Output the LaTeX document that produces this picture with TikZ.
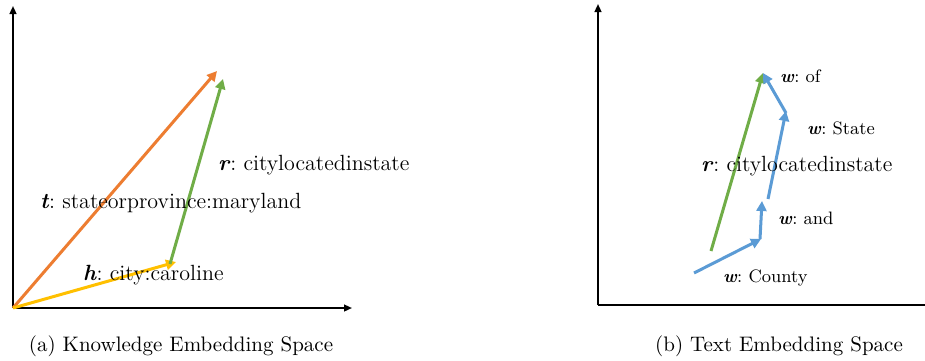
\documentclass[tikz,border=0pt]{standalone}
\usepackage{amsmath,amssymb,amsfonts}
\usepackage{tikz}
\usepackage[dvipsnames]{xcolor}
\usetikzlibrary{arrows.meta}

\definecolor{orangeColor}{RGB}{237,125,49}
\definecolor{yellowColor}{RGB}{255,192,0}
\definecolor{greenColor}{RGB}{112,173,71}
\definecolor{blueColor}{RGB}{91,155,213}

\tikzset{
  axisline/.style={draw=black,line width=0.9pt,line join=round},
  axisarrow/.style={axisline,-{Triangle[length=4pt,width=3.4pt]}},
  vecline/.style={line width=1.5pt,line join=round,-{Triangle[length=5pt,width=5pt]}},
  biglabel/.style={anchor=west,inner sep=0pt,outer sep=0pt,font=\fontsize{11}{13}\selectfont},
  smalllabel/.style={anchor=west,inner sep=0pt,outer sep=0pt,font=\fontsize{9}{11}\selectfont},
  caption/.style={anchor=center,inner sep=0pt,outer sep=0pt,font=\fontsize{10.5}{12}\selectfont}
}

\begin{document}
\begin{tikzpicture}[x=0.5pt,y=-0.5pt]
\path[use as bounding box,fill=white] (0,0) rectangle (925,360);

% (a) knowledge embedding space
\coordinate (oA) at (13,308);
\coordinate (yA) at (13,6);
\coordinate (xA) at (352,308);
\coordinate (hA) at (176,262);
\coordinate (tA) at (217,71);
\coordinate (rA) at (223,79);

\path[axisarrow] (oA) -- (yA);
\path[axisarrow] (oA) -- (xA);

\path[vecline,draw=orangeColor] (oA) -- (tA);
\path[vecline,draw=yellowColor] (oA) -- (hA);
\path[vecline,draw=greenColor] (170,264) -- (rA);

\node[biglabel] (rlabA) at (218,165) {\textbf{\textit{r}}:\ citylocatedinstate};
\node[biglabel] (tlabA) at (40,203) {\textbf{\textit{t}}:\ stateorprovince:maryland};
\node[biglabel] (hlabA) at (83,275) {\textbf{\textit{h}}:\ city:caroline};

% (b) text embedding space
\coordinate (oB) at (598,305);
\coordinate (yB) at (598,4);
\coordinate (xB) at (925,305);
\coordinate (w0) at (694,273);
\coordinate (w1) at (761,239);
\coordinate (w2) at (762,201);
\coordinate (w3) at (768,199);
\coordinate (w4) at (786,111);
\coordinate (w5) at (763,73);

\path[axisarrow] (oB) -- (yB);
\path[axisline] (oB) -- (xB);

\path[vecline,draw=greenColor] (711,251) -- (w5);
\path[vecline,draw=blueColor] (w0) -- (w1);
\path[vecline,draw=blueColor] (760,239) -- (w2);
\path[vecline,draw=blueColor] (w3) -- (w4);
\path[vecline,draw=blueColor] (786,113) -- (w5);

\node[smalllabel] (oflab) at (780,76) {\textbf{\textit{w}}:\ of};
\node[smalllabel] (statelab) at (807,128) {\textbf{\textit{w}}:\ State};
\node[biglabel] (rlabB) at (701,166) {\textbf{\textit{r}}:\ citylocatedinstate};
\node[smalllabel] (andlab) at (778,218) {\textbf{\textit{w}}:\ and};
\node[smalllabel] (countylab) at (723,278) {\textbf{\textit{w}}:\ County};

% captions
\node[caption] (capA) at (181,346) {(a) Knowledge Embedding Space};
\node[caption] (capB) at (779,346) {(b) Text Embedding Space};
\end{tikzpicture}
\end{document}
